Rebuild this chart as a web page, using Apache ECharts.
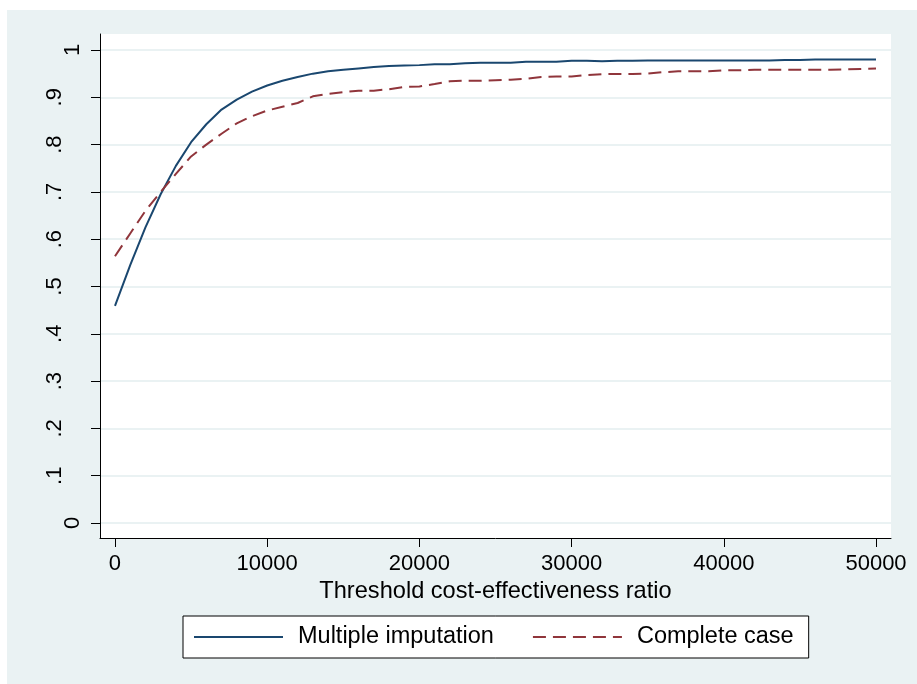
<!DOCTYPE html>
<html>
<head>
<meta charset="utf-8">
<script src="https://cdn.jsdelivr.net/npm/echarts@6/dist/echarts.min.js"></script>
<style>
  html, body { margin: 0; padding: 0; background: #ffffff; }
  #chart { position: absolute; left: 7px; top: 10px; width: 910px; height: 674px; }
</style>
</head>
<body>
<div id="chart"></div>
<script>
const thresholds = [0,1000,2000,3000,4000,5000,6000,7000,8000,9000,10000,11000,12000,13000,14000,15000,16000,17000,18000,19000,20000,21000,22000,23000,24000,25000,26000,27000,28000,29000,30000,31000,32000,33000,34000,35000,36000,37000,38000,39000,40000,41000,42000,43000,44000,45000,46000,47000,48000,49000,50000];
const multipleImputation = [0.459,0.545,0.625,0.695,0.755,0.805,0.843,0.874,0.895,0.912,0.925,0.935,0.943,0.950,0.955,0.958,0.961,0.964,0.966,0.967,0.968,0.970,0.970,0.972,0.973,0.973,0.973,0.975,0.975,0.975,0.977,0.977,0.976,0.977,0.977,0.978,0.978,0.978,0.978,0.978,0.978,0.978,0.978,0.978,0.979,0.979,0.980,0.980,0.980,0.980,0.980];
const completeCase = [0.564,0.612,0.660,0.700,0.738,0.775,0.800,0.823,0.845,0.860,0.872,0.880,0.888,0.902,0.907,0.911,0.914,0.914,0.917,0.922,0.923,0.928,0.934,0.935,0.935,0.936,0.937,0.939,0.943,0.944,0.944,0.947,0.949,0.949,0.949,0.950,0.953,0.955,0.955,0.955,0.957,0.957,0.958,0.958,0.958,0.958,0.958,0.958,0.959,0.960,0.961];
const seriesNames = ['Multiple imputation', 'Complete case'];
const xTicks = [0,10000,20000,30000,40000,50000];
const yTicks = [0,0.1,0.2,0.3,0.4,0.5,0.6,0.7,0.8,0.9,1];
const yTickLabels = ['0','.1','.2','.3','.4','.5','.6','.7','.8','.9','1'];
const xTitle = 'Threshold cost-effectiveness ratio';

const FONT = '"Liberation Sans", Arial, Helvetica, sans-serif';
const chart = echarts.init(document.getElementById('chart'), null, { renderer: 'canvas' });

function yLabel(v) {
  let idx = -1;
  for (let i = 0; i < yTicks.length; i++) if (Math.abs(yTicks[i] - v) < 1e-6) idx = i;
  if (idx < 0) return '';
  const t = yTickLabels[idx];
  return t.charAt(0) === '.' ? '{d|' + t + '}' : '{n|' + t + '}';
}

chart.setOption({
  backgroundColor: '#eaf2f3',
  animation: false,
  grid: {
    left: 93, right: 26, top: 24, bottom: 146,
    show: true, backgroundColor: '#ffffff', borderWidth: 0
  },
  xAxis: {
    type: 'value',
    min: -985, max: 50985,
    name: xTitle,
    nameLocation: 'middle',
    nameGap: 40,
    nameTextStyle: { fontFamily: FONT, fontSize: 23.6, color: '#000' },
    axisLine: { show: true, onZero: false, lineStyle: { color: '#000', width: 1 } },
    axisTick: { show: true, length: 9, customValues: xTicks, lineStyle: { color: '#000', width: 1 } },
    axisLabel: { customValues: xTicks, margin: 15, fontFamily: FONT, fontSize: 22, color: '#000',
      formatter: function (v) { return String(v); } },
    splitLine: { show: false }
  },
  yAxis: {
    type: 'value',
    min: -0.0317, max: 1.0338,
    axisLine: { show: true, onZero: false, lineStyle: { color: '#000', width: 1 } },
    axisTick: { show: true, length: 9, customValues: yTicks, lineStyle: { color: '#000', width: 1 } },
    axisLabel: {
      customValues: yTicks, rotate: 90, margin: 16, color: '#000',
      fontFamily: FONT, fontSize: 22,
      formatter: yLabel,
      rich: {
        n: { fontFamily: FONT, fontSize: 22, color: '#000' },
        d: { fontFamily: FONT, fontSize: 22, color: '#000', padding: [0, 0, 18, 0] }
      }
    },
    splitLine: { show: true, lineStyle: { color: '#eaf2f3', width: 2 } }
  },
  legend: {
    left: 176, top: 606,
    orient: 'horizontal',
    backgroundColor: '#ffffff',
    borderColor: '#000', borderWidth: 1, borderRadius: 0,
    padding: [9, 15, 9, 10],
    itemGap: 38,
    itemWidth: 89, itemHeight: 14,
    itemStyle: { opacity: 0 },
    textStyle: { fontFamily: FONT, fontSize: 23.5, color: '#000', padding: [0, 0, 0, 10] },
    data: seriesNames
  },
  series: [
    {
      name: seriesNames[0], type: 'line', symbol: 'none',
      data: thresholds.map((x, i) => [x, multipleImputation[i]]),
      lineStyle: { color: '#1a476f', width: 2 },
      itemStyle: { color: '#1a476f' }
    },
    {
      name: seriesNames[1], type: 'line', symbol: 'none',
      data: thresholds.map((x, i) => [x, completeCase[i]]),
      lineStyle: { color: '#90353b', width: 2, type: [13, 7] },
      itemStyle: { color: '#90353b' }
    }
  ]
});
</script>
</body>
</html>
